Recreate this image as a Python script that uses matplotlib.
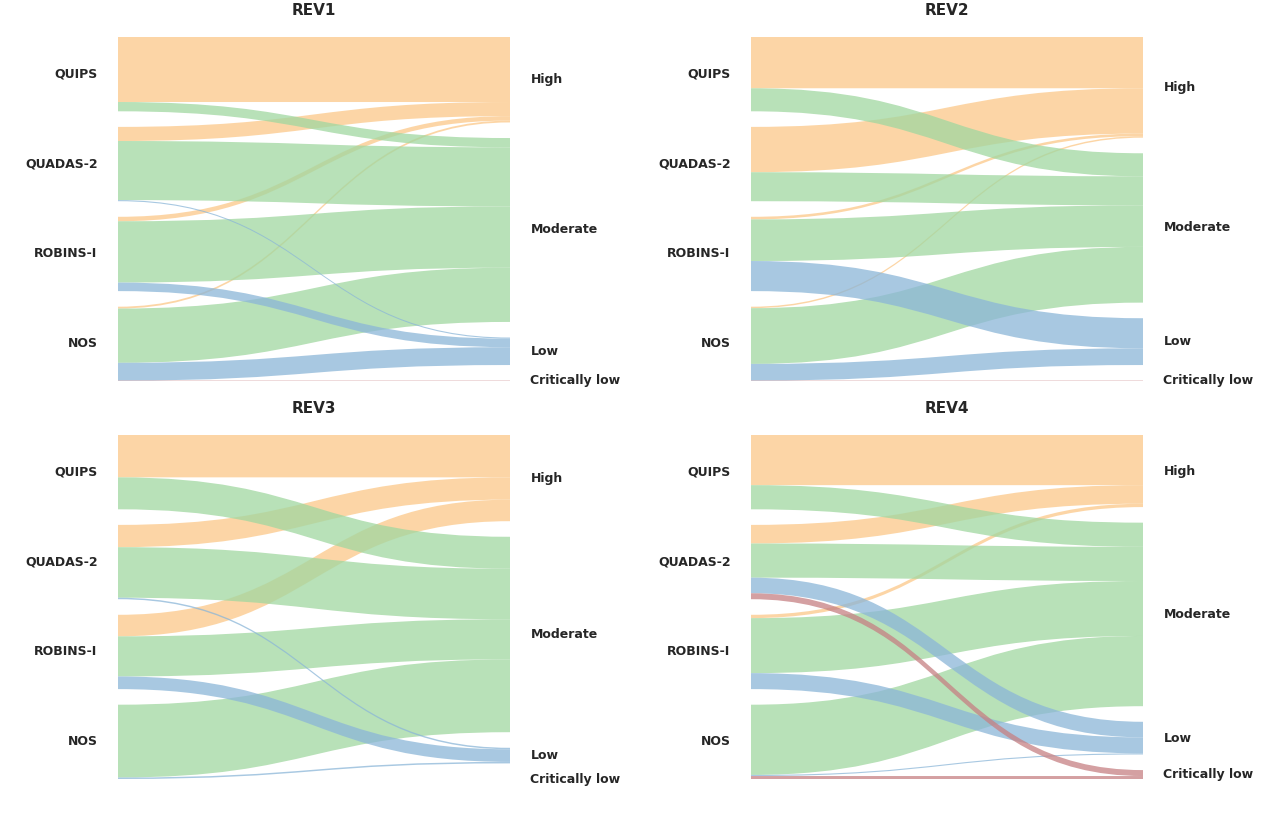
import matplotlib
matplotlib.use("Agg")
import matplotlib.pyplot as plt
from matplotlib.path import Path
from matplotlib.patches import PathPatch

# Tools (left) and rating levels (right)
tools = ["QUIPS", "QUADAS-2", "ROBINS-I", "NOS"]
levels = ["High", "Moderate", "Low", "Critically low"]
reviewers = ["REV1", "REV2", "REV3", "REV4"]

# percentage of each tool's ratings going to High / Moderate / Low / Critically low
rev1 = [[87.5, 12.5, 0, 0],
        [19, 79.5, 1.5, 0],
        [6, 82.5, 11.5, 0],
        [2.5, 73, 24, 0.5]]
rev2 = [[69, 31, 0, 0],
        [61, 39, 0, 0],
        [3.5, 56, 40.5, 0],
        [2, 75, 22.5, 0.5]]
rev3 = [[57, 43, 0, 0],
        [30, 68, 2, 0],
        [29, 54, 17, 0],
        [0, 98, 2, 0]]
rev4 = [[67.5, 32.5, 0, 0],
        [25, 46, 21, 8],
        [4.5, 74, 21.5, 0],
        [0, 94.5, 1.5, 4]]
all_revs = [rev1, rev2, rev3, rev4]

level_colors = ["#fcc888", "#a0d7a0", "#8bb6d8", "#c68083"]
text_color = "#262626"
gap = 21  # space between nodes, in data units


def node_positions(totals):
    tops = []
    y = 0
    for t in totals:
        tops.append(y)
        y += t + gap
    return tops


def draw_sankey(ax, flows, title):
    n_src, n_tgt = len(tools), len(levels)
    src_tot = [sum(flows[i]) for i in range(n_src)]
    tgt_tot = [sum(flows[i][j] for i in range(n_src)) for j in range(n_tgt)]
    src_top = node_positions(src_tot)
    tgt_top = node_positions(tgt_tot)
    total = src_top[-1] + src_tot[-1]

    c = 0.5
    # draw level by level so that lower ratings sit on top
    for j in range(n_tgt):
        for i in range(n_src):
            v = flows[i][j]
            if v <= 0:
                continue
            s_start = src_top[i] + sum(flows[i][:j])
            t_start = tgt_top[j] + sum(flows[k][j] for k in range(i))
            y0a, y0b = s_start, s_start + v
            y1a, y1b = t_start, t_start + v
            verts = [(0, y0a), (c, y0a), (c, y1a), (1, y1a),
                     (1, y1b), (c, y1b), (c, y0b), (0, y0b), (0, y0a)]
            codes = [Path.MOVETO, Path.CURVE4, Path.CURVE4, Path.CURVE4,
                     Path.LINETO, Path.CURVE4, Path.CURVE4, Path.CURVE4,
                     Path.CLOSEPOLY]
            ax.add_patch(PathPatch(Path(verts, codes), facecolor=level_colors[j],
                                   edgecolor="none", alpha=0.75, lw=0))

    for i, name in enumerate(tools):
        ax.text(-0.052, src_top[i] + src_tot[i] / 2, name, ha="right", va="center",
                fontsize=9, fontweight="bold", color=text_color, clip_on=False)
    for j, name in enumerate(levels):
        ax.text(1.052, tgt_top[j] + tgt_tot[j] / 2, name, ha="left", va="center",
                fontsize=9, fontweight="bold", color=text_color, clip_on=False)

    ax.set_xlim(0, 1)
    ax.set_ylim(total, 0)
    ax.axis("off")
    ax.set_title(title, fontsize=11, fontweight="bold", color=text_color, pad=16)


fig = plt.figure(figsize=(12.8, 8.27), dpi=100)
W, H = 1280, 827
boxes = [(118, 37), (751, 37), (118, 435), (751, 435)]
for (x, y), flows, title in zip(boxes, all_revs, reviewers):
    ax = fig.add_axes([x / W, 1 - (y + 344) / H, 392 / W, 344 / H])
    draw_sankey(ax, flows, title)

fig.savefig("out.png", dpi=100, facecolor="white")
